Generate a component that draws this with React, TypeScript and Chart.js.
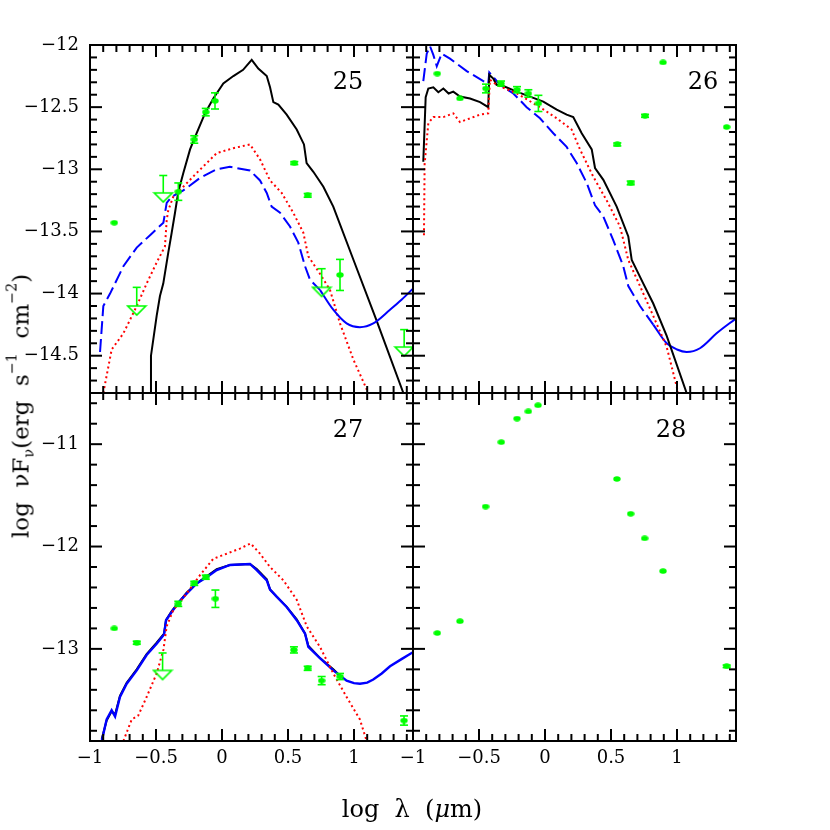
import React, { useEffect, useRef } from "react";
import { Chart, registerables } from "chart.js";

Chart.register(...registerables);

// ---------- axes ----------
const X_MIN = -1;
const X_MAX = 1.447;
const TOP_Y_MIN = -14.8;
const TOP_Y_MAX = -12;
const BOT_Y_MIN = -13.9;
const BOT_Y_MAX = -10.5;
const X_TICK_LABELS = [-1, -0.5, 0, 0.5, 1];
const TOP_Y_TICK_LABELS = [-12, -12.5, -13, -13.5, -14, -14.5];
const BOT_Y_TICK_LABELS = [-11, -12, -13];

// ---------- panel 25 ----------
const p25BlackX = [-0.545, -0.538, -0.495, -0.47, -0.445, -0.407, -0.381, -0.356, -0.331, -0.293, -0.242, -0.192, -0.129, -0.066, 0.01, 0.086, 0.16, 0.225, 0.275, 0.339, 0.364, 0.389, 0.427, 0.49, 0.566, 0.621, 0.641, 0.692, 0.768, 0.843, 1.0, 1.172, 1.374];
const p25BlackY = [-14.8, -14.5, -14.18, -14.02, -13.92, -13.67, -13.51, -13.35, -13.18, -13.03, -12.84, -12.71, -12.55, -12.43, -12.31, -12.25, -12.2, -12.12, -12.19, -12.25, -12.34, -12.46, -12.48, -12.56, -12.68, -12.8, -12.95, -13.02, -13.14, -13.3, -13.74, -14.22, -14.8];
const p25RedX = [-0.899, -0.836, -0.747, -0.646, -0.571, -0.495, -0.432, -0.419, -0.407, -0.369, -0.293, -0.192, -0.116, -0.04, 0.086, 0.212, 0.288, 0.364, 0.452, 0.54, 0.616, 0.654, 0.742, 0.818, 0.894, 0.995, 1.096, 1.105];
const p25RedY = [-14.8, -14.45, -14.32, -14.1, -13.92, -13.75, -13.62, -13.41, -13.33, -13.22, -13.14, -13.03, -12.95, -12.87, -12.83, -12.8, -12.92, -13.09, -13.19, -13.35, -13.51, -13.7, -13.84, -13.97, -14.24, -14.53, -14.77, -14.8];
const p25BlueDashX = [-0.924, -0.899, -0.848, -0.747, -0.646, -0.545, -0.444, -0.419, -0.381, -0.293, -0.167, -0.04, 0.06, 0.212, 0.288, 0.339, 0.376, 0.44, 0.515, 0.578, 0.629, 0.667, 0.742];
const p25BlueDashY = [-14.47, -14.1, -14.0, -13.78, -13.63, -13.53, -13.43, -13.27, -13.22, -13.17, -13.07, -13.0, -12.98, -13.01, -13.09, -13.19, -13.3, -13.35, -13.46, -13.59, -13.78, -13.89, -13.97];
const p25BlueX = [0.742, 0.843, 0.944, 1.045, 1.146, 1.273, 1.36, 1.447];
const p25BlueY = [-13.97, -14.13, -14.24, -14.27, -14.24, -14.13, -14.05, -13.96];
const p25PtX = [-0.816, -0.331, -0.21, -0.123, -0.053, 0.548, 0.649, 0.894];
const p25PtY = [-13.43, -13.18, -12.76, -12.54, -12.45, -12.95, -13.21, -13.85];
const p25PtErr = [0, 0.07, 0.03, 0.03, 0.065, 0.012, 0.015, 0.125];
const p25UlX = [-0.646, -0.445, 0.755, 1.38];
const p25UlY = [-14.1, -13.19, -13.95, -14.43];
const p25UlTop = [-13.95, -13.05, -13.8, -14.29];

// ---------- panel 26 ----------
const p26BlackX = [-0.922, -0.904, -0.884, -0.846, -0.808, -0.77, -0.73, -0.695, -0.644, -0.568, -0.492, -0.43, -0.422, -0.392, -0.367, -0.316, -0.214, -0.114, -0.013, 0.089, 0.164, 0.214, 0.278, 0.354, 0.379, 0.442, 0.543, 0.631, 0.657, 0.745, 0.82, 0.922, 1.073];
const p26BlackY = [-12.94, -12.42, -12.35, -12.34, -12.38, -12.35, -12.39, -12.375, -12.415, -12.43, -12.46, -12.5, -12.24, -12.27, -12.32, -12.33, -12.375, -12.415, -12.456, -12.52, -12.56, -12.58, -12.71, -12.84, -12.99, -13.085, -13.3, -13.54, -13.73, -13.92, -14.08, -14.34, -14.8];
const p26RedX = [-0.917, -0.912, -0.884, -0.846, -0.77, -0.695, -0.644, -0.568, -0.492, -0.43, -0.417, -0.367, -0.214, -0.038, 0.089, 0.202, 0.265, 0.366, 0.467, 0.568, 0.631, 0.72, 0.82, 0.922, 0.998, 1.01];
const p26RedY = [-13.53, -12.96, -12.63, -12.58, -12.58, -12.55, -12.62, -12.59, -12.56, -12.55, -12.28, -12.32, -12.39, -12.5, -12.59, -12.68, -12.84, -13.06, -13.25, -13.46, -13.73, -13.94, -14.18, -14.43, -14.75, -14.8];
const p26BlueDashX = [-0.922, -0.896, -0.871, -0.846, -0.82, -0.783, -0.72, -0.593, -0.467, -0.43, -0.422, -0.341, -0.24, -0.139, -0.038, 0.063, 0.164, 0.24, 0.316, 0.379, 0.442, 0.517, 0.593, 0.631, 0.72, 0.82];
const p26BlueDashY = [-12.29, -12.07, -12.01, -12.08, -12.17, -12.07, -12.11, -12.21, -12.29, -12.31, -12.22, -12.32, -12.39, -12.5, -12.59, -12.71, -12.82, -12.95, -13.11, -13.29, -13.38, -13.57, -13.78, -13.94, -14.1, -14.25];
const p26BlueX = [0.82, 0.922, 1.0, 1.073, 1.174, 1.3, 1.447];
const p26BlueY = [-14.25, -14.4, -14.45, -14.47, -14.44, -14.32, -14.2];
const p26PtX = [-0.816, -0.644, -0.447, -0.333, -0.212, -0.126, -0.05, 0.548, 0.649, 0.758, 0.894, 1.376];
const p26PtY = [-12.23, -12.43, -12.35, -12.31, -12.36, -12.39, -12.47, -12.8, -13.11, -12.57, -12.14, -12.66];
const p26PtErr = [0, 0, 0.035, 0.02, 0.025, 0.03, 0.065, 0.012, 0.015, 0.012, 0, 0];

// ---------- panel 27 ----------
const p27BlueX = [-0.911, -0.874, -0.836, -0.81, -0.773, -0.722, -0.646, -0.571, -0.495, -0.439, -0.424, -0.381, -0.331, -0.268, -0.192, -0.116, -0.04, 0.06, 0.212, 0.263, 0.339, 0.364, 0.414, 0.49, 0.566, 0.629, 0.654, 0.742, 0.843, 0.944, 1.0, 1.045, 1.1, 1.146, 1.21, 1.273, 1.36, 1.45];
const p27BlueY = [-13.9, -13.69, -13.6, -13.66, -13.47, -13.34, -13.21, -13.06, -12.95, -12.86, -12.72, -12.64, -12.55, -12.46, -12.36, -12.3, -12.23, -12.18, -12.17, -12.23, -12.33, -12.42, -12.49, -12.59, -12.72, -12.85, -12.98, -13.09, -13.21, -13.31, -13.335, -13.34, -13.33, -13.3, -13.24, -13.17, -13.1, -13.03];
const p27BlackX = [-0.911, -0.874, -0.836, -0.81, -0.773, -0.722, -0.646, -0.571, -0.495, -0.439, -0.424, -0.381, -0.331, -0.268, -0.192, -0.116, -0.04, 0.06, 0.212, 0.263, 0.339, 0.364, 0.414, 0.49, 0.566, 0.629, 0.654, 0.742, 0.843, 0.9];
const p27BlackY = [-13.88, -13.7, -13.61, -13.64, -13.46, -13.33, -13.2, -13.05, -12.94, -12.85, -12.72, -12.63, -12.55, -12.45, -12.36, -12.29, -12.22, -12.18, -12.17, -12.22, -12.32, -12.42, -12.49, -12.59, -12.71, -12.85, -12.97, -13.09, -13.2, -13.27];
const p27RedX = [-0.747, -0.684, -0.634, -0.571, -0.495, -0.444, -0.419, -0.369, -0.268, -0.167, -0.066, 0.035, 0.136, 0.217, 0.288, 0.364, 0.465, 0.566, 0.642, 0.742, 0.843, 0.944, 1.045, 1.096];
const p27RedY = [-13.9, -13.69, -13.65, -13.47, -13.24, -13.01, -12.78, -12.62, -12.46, -12.28, -12.12, -12.07, -12.02, -11.97, -12.07, -12.2, -12.33, -12.52, -12.78, -12.98, -13.24, -13.47, -13.69, -13.9];
const p27PtX = [-0.816, -0.646, -0.331, -0.21, -0.123, -0.05, 0.545, 0.649, 0.755, 0.894, 1.379];
const p27PtY = [-12.8, -12.94, -12.56, -12.36, -12.3, -12.51, -13.01, -13.19, -13.31, -13.27, -13.7];
const p27PtErr = [0, 0.015, 0.025, 0.02, 0.02, 0.085, 0.03, 0.02, 0.04, 0.03, 0.045];
const p27UlX = [-0.45];
const p27UlY = [-13.21];
const p27UlTop = [-13.04];

// ---------- panel 28 ----------
const p28PtX = [-0.816, -0.644, -0.45, -0.331, -0.212, -0.126, -0.053, 0.545, 0.649, 0.755, 0.894, 1.376];
const p28PtY = [-12.845, -12.73, -11.61, -10.98, -10.75, -10.68, -10.62, -11.34, -11.68, -11.92, -12.24, -13.17];
const p28PtErr = [0, 0, 0, 0, 0, 0, 0, 0, 0, 0, 0, 0.012];

// ---------- styles ----------
const GREEN = "#00ff00";
const BLUE = "#0000ff";
const RED = "#ff0000";
const SERIF = '"DejaVu Serif", serif';
const PW = 323;
const PH = 348;
const YW = 90;
const XH = 50;

// curves listed bottom-to-top (last one is drawn on top)
type Curve = { x: number[]; y: number[]; color: string; dash?: number[]; width: number; smooth?: boolean };
type Panel = {
  label: string;
  labelDX: number;
  labelDY: number;
  left: number;
  top: number;
  yMin: number;
  yMax: number;
  yLabelTicks: number[];
  yMajorStep: number;
  yMinorStep: number;
  showX: boolean;
  showY: boolean;
  curves: Curve[];
  ptX: number[];
  ptY: number[];
  ptErr: number[];
  ulX: number[];
  ulY: number[];
  ulTop: number[];
};

const PANELS: Panel[] = [
  {
    label: "25", labelDX: 258, labelDY: 44, left: 90, top: 45,
    yMin: TOP_Y_MIN, yMax: TOP_Y_MAX, yLabelTicks: TOP_Y_TICK_LABELS, yMajorStep: 0.5, yMinorStep: 0.1,
    showX: false, showY: true,
    curves: [
      { x: p25BlackX, y: p25BlackY, color: "#000", width: 2 },
      { x: p25RedX, y: p25RedY, color: RED, dash: [2, 3], width: 2 },
      { x: p25BlueDashX, y: p25BlueDashY, color: BLUE, dash: [13, 5], width: 2 },
      { x: p25BlueX, y: p25BlueY, color: BLUE, width: 2, smooth: true },
    ],
    ptX: p25PtX, ptY: p25PtY, ptErr: p25PtErr, ulX: p25UlX, ulY: p25UlY, ulTop: p25UlTop,
  },
  {
    label: "26", labelDX: 290, labelDY: 44, left: 413, top: 45,
    yMin: TOP_Y_MIN, yMax: TOP_Y_MAX, yLabelTicks: TOP_Y_TICK_LABELS, yMajorStep: 0.5, yMinorStep: 0.1,
    showX: false, showY: false,
    curves: [
      { x: p26BlueDashX, y: p26BlueDashY, color: BLUE, dash: [13, 5], width: 2 },
      { x: p26BlueX, y: p26BlueY, color: BLUE, width: 2, smooth: true },
      { x: p26BlackX, y: p26BlackY, color: "#000", width: 2 },
      { x: p26RedX, y: p26RedY, color: RED, dash: [2, 3], width: 2 },
    ],
    ptX: p26PtX, ptY: p26PtY, ptErr: p26PtErr, ulX: [], ulY: [], ulTop: [],
  },
  {
    label: "27", labelDX: 258, labelDY: 44, left: 90, top: 393,
    yMin: BOT_Y_MIN, yMax: BOT_Y_MAX, yLabelTicks: BOT_Y_TICK_LABELS, yMajorStep: 1, yMinorStep: 0.2,
    showX: true, showY: true,
    curves: [
      { x: p27BlackX, y: p27BlackY, color: "#000", width: 2 },
      { x: p27BlueX, y: p27BlueY, color: BLUE, width: 2.4 },
      { x: p27RedX, y: p27RedY, color: RED, dash: [2, 3], width: 2 },
    ],
    ptX: p27PtX, ptY: p27PtY, ptErr: p27PtErr, ulX: p27UlX, ulY: p27UlY, ulTop: p27UlTop,
  },
  {
    label: "28", labelDX: 258, labelDY: 44, left: 413, top: 393,
    yMin: BOT_Y_MIN, yMax: BOT_Y_MAX, yLabelTicks: BOT_Y_TICK_LABELS, yMajorStep: 1, yMinorStep: 0.2,
    showX: true, showY: false,
    curves: [],
    ptX: p28PtX, ptY: p28PtY, ptErr: p28PtErr, ulX: [], ulY: [], ulTop: [],
  },
];

function fmt(v: number): string {
  if (v === 0) return "0";
  return (v < 0 ? "\u2212" : "") + String(Math.round(Math.abs(v) * 100) / 100);
}

function makeDot(): HTMLCanvasElement {
  const c = document.createElement("canvas");
  c.width = 8;
  c.height = 6;
  const g = c.getContext("2d")!;
  g.fillStyle = GREEN;
  g.beginPath();
  g.ellipse(4, 3, 3.7, 2.7, 0, 0, Math.PI * 2);
  g.fill();
  return c;
}

function makeTriangle(): HTMLCanvasElement {
  const c = document.createElement("canvas");
  c.width = 22;
  c.height = 24;
  const g = c.getContext("2d")!;
  g.strokeStyle = GREEN;
  g.lineWidth = 1.6;
  g.beginPath();
  g.moveTo(2, 12);
  g.lineTo(20, 12);
  g.lineTo(11, 21);
  g.closePath();
  g.stroke();
  return c;
}

function steps(min: number, max: number, step: number): number[] {
  const out: number[] = [];
  const n0 = Math.ceil(min / step - 1e-6);
  const n1 = Math.floor(max / step + 1e-6);
  for (let n = n0; n <= n1; n++) out.push(Math.round(n * step * 1000) / 1000);
  return out;
}

function makePlugin(p: Panel) {
  return {
    id: "sed" + p.label,
    afterDatasetsDraw(chart: any) {
      const ctx = chart.ctx as CanvasRenderingContext2D;
      const xs = chart.scales.x;
      const ys = chart.scales.y;
      ctx.save();
      ctx.strokeStyle = GREEN;
      ctx.lineWidth = 1.6;
      const seg = (x1: number, y1: number, x2: number, y2: number) => {
        ctx.beginPath();
        ctx.moveTo(x1, y1);
        ctx.lineTo(x2, y2);
        ctx.stroke();
      };
      p.ptX.forEach((xv, i) => {
        const e = p.ptErr[i];
        if (!e) return;
        const px = xs.getPixelForValue(xv);
        const y1 = ys.getPixelForValue(p.ptY[i] + e);
        const y2 = ys.getPixelForValue(p.ptY[i] - e);
        seg(px, y1, px, y2);
        seg(px - 4, y1, px + 4, y1);
        seg(px - 4, y2, px + 4, y2);
      });
      p.ulX.forEach((xv, i) => {
        const px = xs.getPixelForValue(xv);
        const y1 = ys.getPixelForValue(p.ulTop[i]);
        const y2 = ys.getPixelForValue(p.ulY[i]);
        seg(px, y1, px, y2);
        seg(px - 4, y1, px + 4, y1);
      });
      ctx.restore();
    },
    afterDraw(chart: any) {
      const ctx = chart.ctx as CanvasRenderingContext2D;
      const xs = chart.scales.x;
      const ys = chart.scales.y;
      const { left, right, top, bottom } = chart.chartArea;
      ctx.save();
      ctx.strokeStyle = "#000";
      ctx.lineWidth = 2;
      const seg = (x1: number, y1: number, x2: number, y2: number) => {
        ctx.beginPath();
        ctx.moveTo(x1, y1);
        ctx.lineTo(x2, y2);
        ctx.stroke();
      };
      const isMajor = (v: number, step: number) => Math.abs(v / step - Math.round(v / step)) < 1e-6;
      steps(X_MIN, X_MAX, 0.1).forEach((v) => {
        if (v <= X_MIN + 1e-6 || v >= X_MAX - 1e-6) return;
        const len = isMajor(v, 0.5) ? 12 : 7;
        const px = xs.getPixelForValue(v);
        seg(px, bottom, px, bottom - len);
        seg(px, top, px, top + len);
      });
      steps(p.yMin, p.yMax, p.yMinorStep).forEach((v) => {
        if (v <= p.yMin + 1e-6 || v >= p.yMax - 1e-6) return;
        const len = isMajor(v, p.yMajorStep) ? 12 : 7;
        const py = ys.getPixelForValue(v);
        seg(left, py, left + len, py);
        seg(right, py, right - len, py);
      });
      ctx.strokeRect(left, top, right - left, bottom - top);
      ctx.fillStyle = "#000";
      ctx.font = "24px " + SERIF;
      ctx.textAlign = "center";
      ctx.textBaseline = "alphabetic";
      ctx.fillText(p.label, left + p.labelDX, top + p.labelDY);
      ctx.restore();
    },
  };
}

function buildConfig(p: Panel, dot: HTMLCanvasElement, tri: HTMLCanvasElement): any {
  const n = p.curves.length;
  // Chart.js draws lower "order" on top: last listed curve gets the lowest curve order
  const datasets: any[] = p.curves.map((c, idx) => ({
    data: c.x.map((x, i) => ({ x, y: c.y[i] })),
    order: 10 + (n - idx),
    showLine: true,
    borderColor: c.color,
    borderWidth: c.width,
    borderDash: c.dash || [],
    backgroundColor: c.color,
    pointRadius: 0,
    pointHoverRadius: 0,
    tension: c.smooth ? 0.4 : 0,
    cubicInterpolationMode: c.smooth ? "monotone" : "default",
  }));
  datasets.push({
    data: p.ptX.map((x, i) => ({ x, y: p.ptY[i] })),
    order: 1,
    showLine: false,
    pointStyle: dot,
    pointRadius: 4,
    pointHoverRadius: 4,
    backgroundColor: GREEN,
    borderColor: GREEN,
  });
  if (p.ulX.length) {
    datasets.push({
      data: p.ulX.map((x, i) => ({ x, y: p.ulY[i] })),
      order: 0,
      showLine: false,
      pointStyle: tri,
      pointRadius: 4,
      pointHoverRadius: 4,
      backgroundColor: GREEN,
      borderColor: GREEN,
    });
  }
  const tickFont = { family: SERIF, size: 18 };
  return {
    type: "scatter",
    data: { datasets },
    options: {
      responsive: false,
      animation: false,
      events: [],
      layout: {
        padding: {
          left: p.left - YW,
          top: p.top,
          right: 830 - p.left - PW,
          bottom: 830 - p.top - PH - XH,
        },
      },
      plugins: { legend: { display: false }, tooltip: { enabled: false }, title: { display: false } },
      scales: {
        x: {
          type: "linear",
          position: "bottom",
          min: X_MIN,
          max: X_MAX,
          grid: { display: false, drawTicks: false },
          border: { display: false },
          ticks: {
            display: p.showX,
            padding: 7,
            color: "#000",
            font: tickFont,
            maxRotation: 0,
            autoSkip: false,
            callback: (v: number) => fmt(v),
          },
          afterBuildTicks: (s: any) => {
            s.ticks = X_TICK_LABELS.map((v) => ({ value: v }));
          },
          afterFit: (s: any) => {
            s.height = XH;
          },
        },
        y: {
          type: "linear",
          position: "left",
          min: p.yMin,
          max: p.yMax,
          grid: { display: false, drawTicks: false },
          border: { display: false },
          ticks: {
            display: p.showY,
            padding: 11,
            color: "#000",
            font: tickFont,
            autoSkip: false,
            callback: (v: number) => fmt(v),
          },
          afterBuildTicks: (s: any) => {
            s.ticks = p.yLabelTicks.map((v) => ({ value: v }));
          },
          afterFit: (s: any) => {
            s.width = YW;
          },
        },
      },
    },
    plugins: [makePlugin(p)],
  };
}

function PanelChart({ panel }: { panel: Panel }) {
  const ref = useRef<HTMLCanvasElement>(null);
  useEffect(() => {
    if (!ref.current) return;
    const chart = new Chart(ref.current, buildConfig(panel, makeDot(), makeTriangle()));
    return () => chart.destroy();
  }, [panel]);
  return (
    <canvas
      ref={ref}
      width={830}
      height={830}
      style={{ position: "absolute", left: 0, top: 0, width: 830, height: 830 }}
    />
  );
}

const supStyle: React.CSSProperties = { fontSize: "0.62em", position: "relative", top: "-12px" };
const subStyle: React.CSSProperties = { fontSize: "0.62em", position: "relative", top: "5px" };

export default function App() {
  return (
    <div
      style={{
        position: "fixed",
        left: 0,
        top: 0,
        width: 830,
        height: 830,
        background: "#fff",
        overflow: "hidden",
      }}
    >
      {PANELS.map((p) => (
        <PanelChart key={p.label} panel={p} />
      ))}
      <div
        style={{
          position: "absolute",
          left: 312,
          width: 200,
          top: 797,
          textAlign: "center",
          whiteSpace: "pre",
          fontFamily: SERIF,
          fontSize: 24,
          lineHeight: "24px",
          color: "#000",
        }}
      >
        {"log  \u03bb  ("}
        <i>{"\u03bc"}</i>
        {"m)"}
      </div>
      <div
        style={{
          position: "absolute",
          left: 22,
          top: 406,
          transform: "translate(-50%, -50%) rotate(-90deg)",
          whiteSpace: "pre",
          fontFamily: SERIF,
          fontSize: 23,
          lineHeight: "24px",
          color: "#000",
        }}
      >
        {"log  \u03bdF"}
        <span style={subStyle}>{"\u03bd"}</span>
        {"(erg  s"}
        <span style={supStyle}>{"\u22121"}</span>
        {"  cm"}
        <span style={supStyle}>{"\u22122"}</span>
        {")"}
      </div>
    </div>
  );
}
